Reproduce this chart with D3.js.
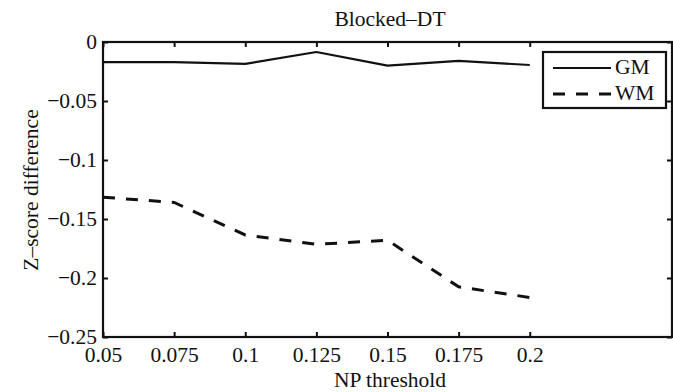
<!DOCTYPE html>
<html>
<head>
<meta charset="utf-8">
<script src="https://cdn.jsdelivr.net/npm/d3@7/dist/d3.min.js"></script>
<style>
  html, body { margin: 0; padding: 0; background: #fff; }
  svg text { font-family: "Liberation Serif", "Times New Roman", serif; fill: #111; }
</style>
</head>
<body>
<svg id="chart" width="673" height="392"></svg>
<script>
// NP threshold values on the x axis
const thresholds = [0.05, 0.075, 0.1, 0.125, 0.15, 0.175, 0.2];
// Z-score difference per series
const gmValues = [-0.017, -0.017, -0.0185, -0.0085, -0.020, -0.016, -0.0195];
const wmValues = [-0.1315, -0.136, -0.1635, -0.1715, -0.168, -0.2075, -0.2165];
const xTicks = [0.05, 0.075, 0.1, 0.125, 0.15, 0.175, 0.2];
const xTickLabels = ["0.05", "0.075", "0.1", "0.125", "0.15", "0.175", "0.2"];
const yTicks = [0, -0.05, -0.1, -0.15, -0.2, -0.25];
const yTickLabels = ["0", "\u22120.05", "\u22120.1", "\u22120.15", "\u22120.2", "\u22120.25"];
const seriesNames = ["GM", "WM"];

const FONT = "'Liberation Serif', 'Times New Roman', serif";
const FS = 21.5;
const INK = "#111";
const DASH = "12,11";

const svg = d3.select("#chart");
const mLeft = 103, mRight = 672, mTop = 42, mBottom = 337;

const x = d3.scaleLinear().domain([0.05, 0.25]).range([mLeft, mRight]);
const y = d3.scaleLinear().domain([-0.25, 0]).range([mBottom, mTop]);

// series lines
const line = d3.line().x((d, i) => x(thresholds[i])).y(d => y(d));
svg.append("path").datum(gmValues).attr("d", line)
  .attr("fill", "none").attr("stroke", INK).attr("stroke-width", 2.2)
  .attr("stroke-linejoin", "round");
svg.append("path").datum(wmValues).attr("d", line)
  .attr("fill", "none").attr("stroke", INK).attr("stroke-width", 3)
  .attr("stroke-dasharray", DASH);

// plot frame
svg.append("rect")
  .attr("x", mLeft).attr("y", mTop)
  .attr("width", mRight - mLeft).attr("height", mBottom - mTop)
  .attr("fill", "none").attr("stroke", INK).attr("stroke-width", 2.2);

function styleAxis(g) {
  g.attr("font-family", FONT).attr("font-size", FS);
  g.select(".domain").remove();
  g.selectAll("line").attr("stroke", INK).attr("stroke-width", 2);
  g.selectAll("text").attr("fill", INK);
}

// x axis ticks (inward, bottom and top)
const xAxis = d3.axisBottom(x).tickValues(xTicks)
  .tickFormat((d, i) => xTickLabels[i]).tickSizeInner(-5).tickSizeOuter(0).tickPadding(10);
svg.append("g").attr("transform", `translate(0,${mBottom})`).call(xAxis).call(styleAxis);

const xTop = d3.axisTop(x).tickValues(xTicks).tickFormat("").tickSizeInner(-5).tickSizeOuter(0);
svg.append("g").attr("transform", `translate(0,${mTop})`).call(xTop).call(styleAxis);

// y axis ticks (inward, left and right)
const yAxis = d3.axisLeft(y).tickValues(yTicks)
  .tickFormat((d, i) => yTickLabels[i]).tickSizeInner(-5).tickSizeOuter(0).tickPadding(6);
svg.append("g").attr("transform", `translate(${mLeft},0)`).call(yAxis).call(styleAxis);

const yRight = d3.axisRight(y).tickValues(yTicks).tickFormat("").tickSizeInner(-5).tickSizeOuter(0);
svg.append("g").attr("transform", `translate(${mRight},0)`).call(yRight).call(styleAxis);

// title and axis labels
svg.append("text").attr("x", 390).attr("y", 26).attr("text-anchor", "middle")
  .attr("font-family", FONT).attr("font-size", FS).attr("fill", INK).text("Blocked\u2013DT");
svg.append("text").attr("x", 390).attr("y", 386.5).attr("text-anchor", "middle")
  .attr("font-family", FONT).attr("font-size", FS).attr("fill", INK).text("NP threshold");
svg.append("text").attr("transform", `translate(38,190) rotate(-90)`)
  .attr("text-anchor", "middle")
  .attr("font-family", FONT).attr("font-size", FS).attr("fill", INK).text("Z\u2013score difference");

// legend
const lg = svg.append("g");
lg.append("rect").attr("x", 543).attr("y", 52).attr("width", 123).attr("height", 56)
  .attr("fill", "#fff").attr("stroke", INK).attr("stroke-width", 2.2);
const dashes = [null, DASH];
const widths = [2.2, 3];
seriesNames.forEach((name, i) => {
  const ly = 68 + i * 26;
  lg.append("line").attr("x1", 553).attr("x2", 611).attr("y1", ly).attr("y2", ly)
    .attr("stroke", INK).attr("stroke-width", widths[i])
    .attr("stroke-dasharray", dashes[i]);
  lg.append("text").attr("x", 615).attr("y", ly + 6)
    .attr("font-family", FONT).attr("font-size", FS).attr("fill", INK).text(name);
});
</script>
</body>
</html>
